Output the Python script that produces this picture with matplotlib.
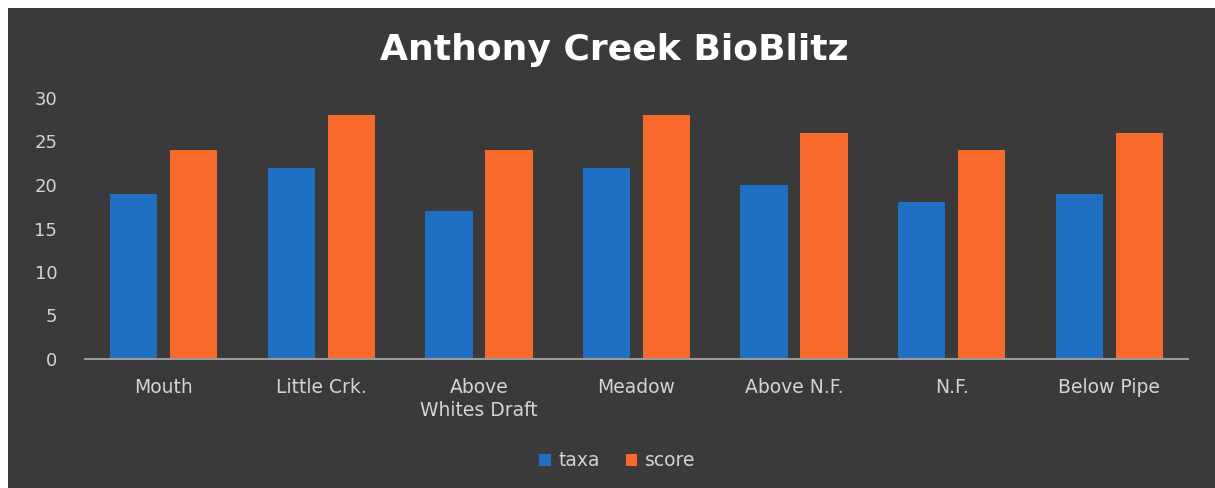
import matplotlib.pyplot as plt
from matplotlib.patches import Rectangle
import numpy as np

sites = ['Mouth', 'Little Crk.', 'Above\nWhites Draft', 'Meadow',
         'Above N.F.', 'N.F.', 'Below Pipe']
taxa = [19, 22, 17, 22, 20, 18, 19]
score = [24, 28, 24, 28, 26, 24, 26]
yticks = [0, 5, 10, 15, 20, 25, 30]

bg = '#3a3a3a'
txt = '#d4d4d4'
blue = '#1f6fc2'
orange = '#f86a2c'

plt.rcParams['font.family'] = ['DejaVu Sans']

fig = plt.figure(figsize=(12.15, 4.88), dpi=100, facecolor='white')
# dark chart area (scan has a thin white margin top/left)
fig.patches.append(Rectangle((8 / 1215, 0), 1 - 8 / 1215, 1 - 8 / 488,
                             transform=fig.transFigure, facecolor=bg,
                             edgecolor='none', zorder=-10))

ax = fig.add_axes([85 / 1215, 1 - 359 / 488, 1103 / 1215, 261 / 488])
ax.set_facecolor('none')

x = np.arange(len(sites))
w = 0.30
ax.bar(x - 0.19, taxa, width=w, color=blue, label='taxa')
ax.bar(x + 0.19, score, width=w, color=orange, label='score')

ax.set_xlim(-0.5, len(sites) - 0.5)
ax.set_ylim(0, 30)
ax.set_yticks(yticks)
ax.set_xticks(x)
ax.set_xticklabels(sites, color=txt, fontsize=13.5, linespacing=1.25)
ax.tick_params(axis='y', colors=txt, labelsize=13, length=0, pad=20)
ax.tick_params(axis='x', length=0, pad=14)

for s in ['top', 'right', 'left']:
    ax.spines[s].set_visible(False)
ax.spines['bottom'].set_color('#9a9a9a')
ax.spines['bottom'].set_linewidth(1.5)

fig.text(0.506, 1 - 50 / 488, 'Anthony Creek BioBlitz', ha='center',
         va='center', color='white', fontsize=26, fontweight='bold')

leg = fig.legend(loc='center', bbox_to_anchor=(0.508, 1 - 461 / 488), ncol=2,
                 frameon=False, fontsize=13.5, handlelength=0.6,
                 handleheight=0.6, handletextpad=0.4, columnspacing=1.4)
for t in leg.get_texts():
    t.set_color(txt)

plt.savefig('out.png', dpi=100, facecolor='white')
